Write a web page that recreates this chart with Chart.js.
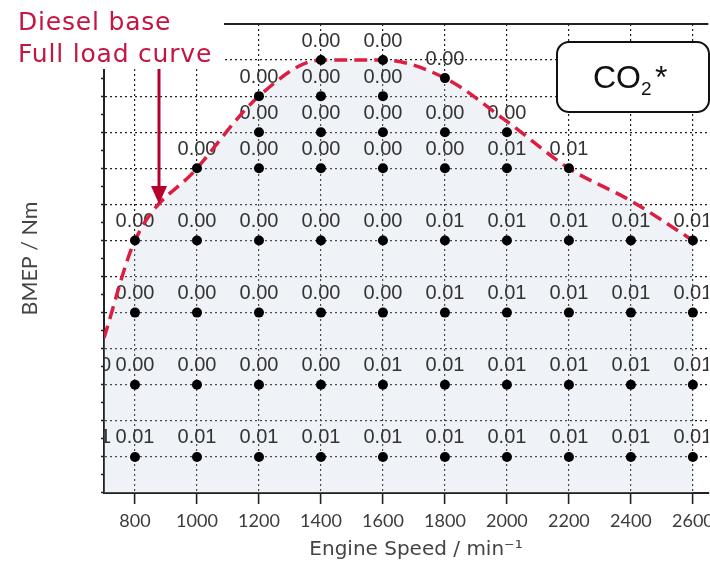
<!DOCTYPE html>
<html>
<head>
<meta charset="utf-8">
<script src="https://cdn.jsdelivr.net/npm/chart.js@4.4.1/dist/chart.umd.min.js"></script>
<style>
  html, body { margin: 0; padding: 0; background: #fff; width: 710px; height: 563px; overflow: hidden; }
  #wrap { width: 720px; height: 563px; }
</style>
</head>
<body>
<div id="wrap"><canvas id="c" width="720" height="563"></canvas></div>
<script>
// Engine speed tick labels (min^-1)
const speedTicks = [800, 1000, 1200, 1400, 1600, 1800, 2000, 2200, 2400, 2600];
// BMEP axis marks: grid lines on whole steps, short marks on the halves
const bmepTicks = [1, 1.5, 2, 2.5, 3, 3.5, 4, 4.5, 5, 5.5, 6, 6.5, 7, 7.5, 8, 8.5, 9, 9.5, 10, 10.5, 11, 11.5, 12, 12.5, 13, 13.5, 14];

// Diesel base full load curve
const fullLoadSpeed = [700, 800, 1000, 1200, 1400, 1600, 1800, 2000, 2200, 2400, 2600];
const fullLoadBmep  = [5.3, 8, 10, 12, 13, 13, 12.5, 11.3, 10, 9.1, 8];

// Measured operating points, one row per BMEP level
const bmepRows = [13, 12.5, 12, 11, 10, 8, 6, 4, 2];
const rowSpeeds = [
  [1400, 1600],
  [1800],
  [1200, 1400, 1600],
  [1200, 1400, 1600, 1800, 2000],
  [1000, 1200, 1400, 1600, 1800, 2000, 2200],
  [800, 1000, 1200, 1400, 1600, 1800, 2000, 2200, 2400, 2600],
  [800, 1000, 1200, 1400, 1600, 1800, 2000, 2200, 2400, 2600],
  [660, 800, 1000, 1200, 1400, 1600, 1800, 2000, 2200, 2400, 2600],
  [660, 800, 1000, 1200, 1400, 1600, 1800, 2000, 2200, 2400, 2600]
];
// CO2* value at each operating point
const rowCo2 = [
  [0.00, 0.00],
  [0.00],
  [0.00, 0.00, 0.00],
  [0.00, 0.00, 0.00, 0.00, 0.00],
  [0.00, 0.00, 0.00, 0.00, 0.00, 0.01, 0.01],
  [0.00, 0.00, 0.00, 0.00, 0.00, 0.01, 0.01, 0.01, 0.01, 0.01],
  [0.00, 0.00, 0.00, 0.00, 0.00, 0.01, 0.01, 0.01, 0.01, 0.01],
  [0.00, 0.00, 0.00, 0.00, 0.00, 0.01, 0.01, 0.01, 0.01, 0.01, 0.01],
  [0.01, 0.01, 0.01, 0.01, 0.01, 0.01, 0.01, 0.01, 0.01, 0.01, 0.01]
];

const fullLoad = fullLoadSpeed.map((s, i) => ({ x: s, y: fullLoadBmep[i] }));
const operatingPoints = [];
bmepRows.forEach((b, r) => {
  rowSpeeds[r].forEach((s, i) => operatingPoints.push({ x: s, y: b, v: rowCo2[r][i] }));
});

const GRID = '#222';
const TITLE_FONT = '"DejaVu Sans", Verdana, sans-serif';

// Value labels above each operating point, drawn after the shaded area
const valueLabels = {
  id: 'valueLabels',
  afterDatasetDraw(chart, args) {
    if (args.index !== 2) return;
    const { ctx, chartArea: a } = chart;
    const meta = chart.getDatasetMeta(0);
    const data = chart.data.datasets[0].data;
    ctx.save();
    ctx.beginPath();
    ctx.rect(a.left, a.top, a.right - a.left, a.bottom - a.top);
    ctx.clip();
    ctx.font = '20px "Liberation Sans", Arial, sans-serif';
    ctx.fillStyle = '#333';
    ctx.textAlign = 'center';
    ctx.textBaseline = 'middle';
    meta.data.forEach((el, i) => {
      ctx.fillText(data[i].v.toFixed(2), el.x, el.y - 19);
    });
    ctx.restore();
  }
};

// Frame top, axis caption, label with arrow, and the CO2* tag
const decorations = {
  id: 'decorations',
  afterDraw(chart) {
    const { ctx, chartArea: a } = chart;
    ctx.save();
    ctx.strokeStyle = GRID;
    ctx.lineWidth = 2;
    ctx.beginPath();
    ctx.moveTo(a.left, a.top);
    ctx.lineTo(a.right, a.top);
    ctx.stroke();

    // speed axis caption
    ctx.fillStyle = '#444';
    ctx.font = '20px ' + TITLE_FONT;
    ctx.textAlign = 'center';
    ctx.textBaseline = 'middle';
    ctx.fillText('Engine Speed / min⁻¹', 416, 550);

    ctx.fillStyle = '#fff';
    ctx.fillRect(0, 0, 224, 69);

    ctx.fillStyle = '#c41642';
    ctx.font = '25px ' + TITLE_FONT;
    ctx.letterSpacing = '0.8px';
    ctx.textAlign = 'left';
    ctx.textBaseline = 'alphabetic';
    ctx.fillText('Diesel base', 18, 30);
    ctx.fillText('Full load curve', 18, 62);
    ctx.letterSpacing = '0px';

    ctx.strokeStyle = '#b8002f';
    ctx.fillStyle = '#b8002f';
    ctx.lineWidth = 3;
    ctx.beginPath();
    ctx.moveTo(159, 69);
    ctx.lineTo(159, 188);
    ctx.stroke();
    ctx.beginPath();
    ctx.moveTo(151, 186);
    ctx.lineTo(167, 186);
    ctx.lineTo(159, 204);
    ctx.closePath();
    ctx.fill();

    ctx.fillStyle = '#fff';
    ctx.strokeStyle = '#111';
    ctx.lineWidth = 2;
    ctx.beginPath();
    ctx.roundRect(557, 42, 152, 70, 12);
    ctx.fill();
    ctx.stroke();
    ctx.fillStyle = '#111';
    ctx.font = '32px "Liberation Sans", Arial, sans-serif';
    ctx.fillText('CO', 593, 88);
    ctx.font = '19px "Liberation Sans", Arial, sans-serif';
    ctx.fillText('2', 641, 95);
    ctx.font = '32px "Liberation Sans", Arial, sans-serif';
    ctx.fillText('*', 655, 88);
    ctx.restore();
  }
};

new Chart(document.getElementById('c'), {
  type: 'scatter',
  data: {
    datasets: [
      {
        label: 'Operating points',
        data: operatingPoints,
        order: 0,
        pointRadius: 5,
        pointHoverRadius: 5,
        backgroundColor: '#000',
        borderColor: '#000',
        borderWidth: 0,
        showLine: false
      },
      {
        label: 'Full load curve',
        data: fullLoad,
        order: 1,
        showLine: true,
        borderColor: '#dc1f40',
        borderWidth: 3.5,
        borderDash: [13, 7],
        pointRadius: 0,
        cubicInterpolationMode: 'monotone',
        fill: false
      },
      {
        label: 'Full load area',
        data: fullLoad,
        order: 2,
        showLine: true,
        borderColor: 'rgba(0,0,0,0)',
        borderWidth: 0,
        pointRadius: 0,
        cubicInterpolationMode: 'monotone',
        fill: 'start',
        backgroundColor: 'rgba(191,207,223,0.25)'
      }
    ]
  },
  options: {
    responsive: false,
    animation: false,
    events: [],
    layout: { autoPadding: false, padding: { top: 24, right: 9, bottom: 0, left: 0 } },
    plugins: { legend: { display: false }, tooltip: { enabled: false } },
    scales: {
      x: {
        type: 'linear',
        position: 'bottom',
        min: 700,
        max: 2650,
        afterBuildTicks: s => { s.ticks = speedTicks.map(v => ({ value: v })); },
        afterFit: s => { s.height = 70; },
        grid: { color: GRID, lineWidth: 1.2, tickLength: 11, tickWidth: 1.6, tickColor: GRID },
        border: { display: true, color: GRID, width: 2, dash: [2, 3] },
        ticks: {
          font: { family: 'Lato', size: 18 },
          color: '#3c3c3c',
          padding: 6,
          maxRotation: 0,
          autoSkip: false,
          callback: v => String(v)
        },
        title: { display: false }
      },
      y: {
        type: 'linear',
        position: 'left',
        min: 1,
        max: 14,
        afterBuildTicks: s => { s.ticks = bmepTicks.map(v => ({ value: v })); },
        afterFit: s => { s.width = 104; },
        grid: {
          color: c => (Number.isInteger(c.tick.value) && c.tick.value > 1 && c.tick.value < 14) ? GRID : 'rgba(0,0,0,0)',
          lineWidth: 1.2,
          tickLength: 3,
          tickWidth: 1.5,
          tickColor: GRID
        },
        border: { display: true, color: GRID, width: 2, dash: [2, 3] },
        ticks: { display: false },
        title: {
          display: true,
          text: 'BMEP / Nm',
          font: { family: 'Lato', size: 21.5, lineHeight: 1.2 },
          color: '#444',
          padding: { top: 17, bottom: 0 }
        }
      }
    }
  },
  plugins: [valueLabels, decorations]
});
</script>
</body>
</html>
